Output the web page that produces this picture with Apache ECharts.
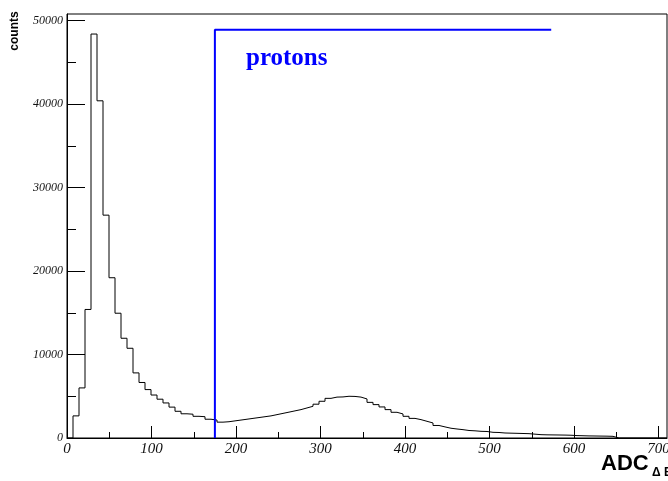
<!DOCTYPE html>
<html>
<head>
<meta charset="utf-8">
<script src="https://cdn.jsdelivr.net/npm/echarts@6/dist/echarts.min.js"></script>
<style>html,body{margin:0;padding:0;background:#fff;}#c{width:668px;height:481px;}</style>
</head>
<body>
<div id="c"></div>
<script>
// ---- data ----
const binLow = 0, binHigh = 710;
const counts = [
  0, 2650, 6000, 15400, 48400, 40400, 26700, 19200, 14950, 11950,
  10750, 7800, 6650, 5800, 5150, 4650, 4200, 3700, 3200, 2900,
  2850, 2600, 2550, 2250, 2150, 1900, 1950, 2050, 2150, 2250,
  2350, 2450, 2550, 2650, 2800, 2950, 3100, 3250, 3400, 3600,
  3800, 4050, 4400, 4750, 4900, 4920, 5000, 4980, 4900, 4680,
  4270, 4000, 3720, 3400, 3080, 2880, 2600, 2350, 2200, 2000,
  1800, 1500, 1330, 1170, 1080, 1000, 900, 860, 800, 780,
  680, 660, 600, 580, 560, 540, 520, 460, 400, 380,
  370, 360, 350, 330, 290, 270, 250, 240, 230, 220,
  200, 0, 0, 0, 0, 0, 0, 0, 0, 0
];
const xMajorTicks = [0, 100, 200, 300, 400, 500, 600, 700];
const xMinorTicks = [50, 150, 250, 350, 450, 550, 650];
const yMajorTicks = [0, 10000, 20000, 30000, 40000, 50000];
const yMinorTicks = [5000, 15000, 25000, 35000, 45000];
const yMax = 50800;
const cutX = [175, 175, 573];
const cutY = [0, 48900, 48900];
const cutLabel = 'protons';
const yTitle = 'counts';
const xTitle = 'ADC';
const xTitleSub = 'Δ E';

// ---- build ----
const nb = counts.length;
const w = (binHigh - binLow) / nb;
const histPts = counts.map((v, i) => [binLow + i * w, v]);
histPts.push([binHigh, counts[nb - 1]]);
const cutPts = cutX.map((x, i) => [x, cutY[i]]);

const chart = echarts.init(document.getElementById('c'), null, {renderer: 'canvas'});
const labelFont = {fontFamily: 'Liberation Serif', fontStyle: 'italic', color: '#111'};
const plain = v => String(v);
chart.setOption({
  animation: false,
  grid: {left: 67, right: 1, top: 14, bottom: 43, show: true, borderColor: '#000', borderWidth: 1,
         backgroundColor: 'transparent', containLabel: false, outerBoundsMode: 'none'},
  xAxis: [{
    type: 'value', min: binLow, max: binHigh, position: 'bottom',
    axisLine: {show: true, lineStyle: {color: '#000', width: 1}},
    axisTick: {show: true, inside: true, length: 12, lineStyle: {color: '#000'}, customValues: xMajorTicks},
    axisLabel: Object.assign({show: true, fontSize: 15, margin: 4, customValues: xMajorTicks, formatter: plain, hideOverlap: false}, labelFont),
    splitLine: {show: false}
  }, {
    type: 'value', min: binLow, max: binHigh, position: 'bottom',
    axisLine: {show: false},
    axisTick: {show: true, inside: true, length: 6, lineStyle: {color: '#000'}, customValues: xMinorTicks},
    axisLabel: {show: false},
    splitLine: {show: false}
  }],
  yAxis: [{
    type: 'value', min: 0, max: yMax, position: 'left',
    axisLine: {show: true, lineStyle: {color: '#000', width: 1}},
    axisTick: {show: true, inside: true, length: 18, lineStyle: {color: '#000'}, customValues: yMajorTicks},
    axisLabel: Object.assign({show: true, fontSize: 12, margin: 4, customValues: yMajorTicks, formatter: plain}, labelFont),
    splitLine: {show: false}
  }, {
    type: 'value', min: 0, max: yMax, position: 'left',
    axisLine: {show: false},
    axisTick: {show: true, inside: true, length: 9, lineStyle: {color: '#000'}, customValues: yMinorTicks},
    axisLabel: {show: false},
    splitLine: {show: false}
  }],
  series: [{
    type: 'line', xAxisIndex: 0, yAxisIndex: 0, step: 'end', showSymbol: false, symbol: 'none',
    data: histPts, lineStyle: {color: '#000', width: 1}, silent: true
  }, {
    type: 'line', xAxisIndex: 0, yAxisIndex: 0, showSymbol: false, symbol: 'none',
    data: cutPts, lineStyle: {color: '#0000ff', width: 2}, silent: true
  }],
  graphic: [
    {type: 'text', left: 246, top: 46, style: {text: cutLabel, fill: '#0000ff', font: 'bold 25px "Liberation Serif"'}},
    {type: 'text', x: 15, y: 31, rotation: Math.PI / 2, style: {text: yTitle, fill: '#000', font: 'bold 12px "Liberation Sans"', align: 'center', verticalAlign: 'middle'}},
    {type: 'text', x: 601, y: 464, style: {text: xTitle, fill: '#000', font: 'bold 22px "Liberation Sans"', align: 'left', verticalAlign: 'middle'}},
    {type: 'text', x: 652, y: 473, style: {text: xTitleSub, fill: '#000', font: 'bold 12px "Liberation Sans"', align: 'left', verticalAlign: 'middle'}}
  ]
});
</script>
</body>
</html>
